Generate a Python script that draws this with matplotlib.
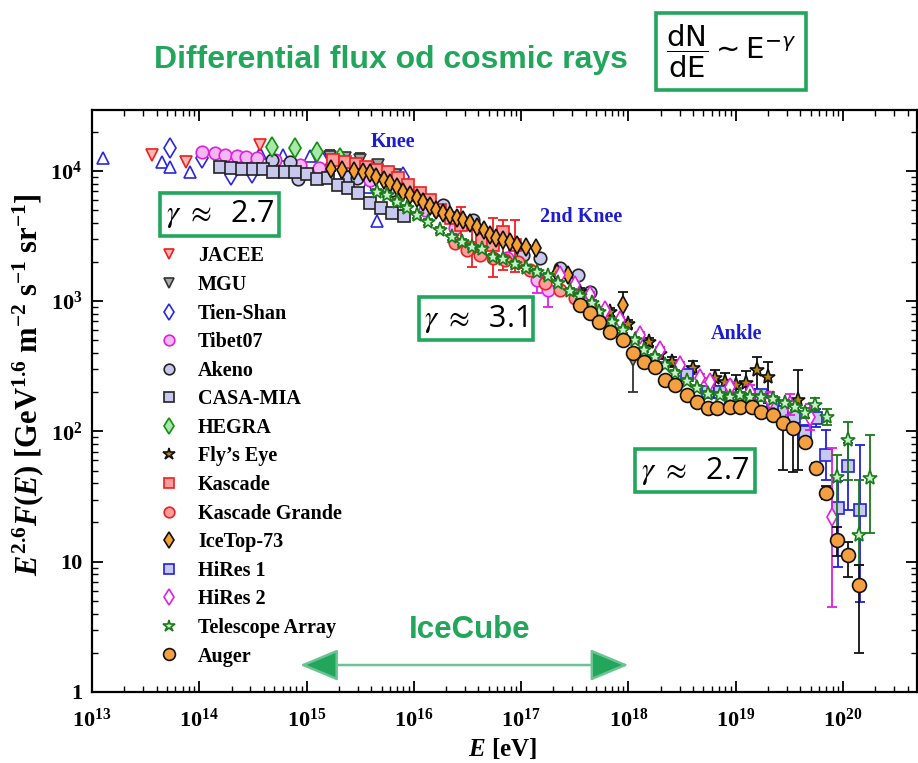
import numpy as np
import matplotlib.pyplot as plt
from matplotlib.lines import Line2D

plt.rcParams['font.family'] = 'Liberation Serif'
plt.rcParams['mathtext.fontset'] = 'custom'
plt.rcParams['mathtext.rm'] = 'Liberation Serif:bold'
plt.rcParams['mathtext.it'] = 'Liberation Serif:italic:bold'
plt.rcParams['mathtext.bf'] = 'Liberation Serif:bold'

GREEN = '#21a65b'
BLUE = '#1c1cd2'

# ---- data: log10(E/eV), log10(E^2.6 F), error bars in dex ----
grigorov_logE = [13.10, 13.65, 13.73, 13.91, 14.57, 14.78, 15.03, 15.14, 15.56, 15.66]
grigorov_logF = [4.100, 4.069, 4.031, 3.993, 4.138, 4.123, 4.115, 4.077, 3.877, 3.616]

jacee_logE = [13.56, 13.88, 14.57]
jacee_logF = [4.123, 4.069, 4.200]

mgu_logE = [15.22, 15.36, 15.50, 15.67, 15.82, 18.04]
mgu_logF = [4.108, 4.100, 4.085, 4.046, 3.969, 2.549]
mgu_lo = [0.03, 0.03, 0.03, 0.04, 0.04, 0.25]
mgu_hi = [0.05, 0.03, 0.05, 0.04, 0.04, 0.03]

tienshan_logE = [13.73, 14.03, 14.30, 14.49, 15.14, 15.90]
tienshan_logF = [4.177, 4.100, 3.969, 3.985, 4.077, 3.954]

tibet_logE = [14.03, 14.15, 14.24, 14.35, 14.44, 14.54, 14.71, 14.94, 15.12, 15.36,
              15.59, 15.82, 16.10, 16.38, 16.62, 16.87, 17.15, 17.25]
tibet_logF = [4.146, 4.138, 4.123, 4.115, 4.108, 4.100, 4.085, 4.046, 4.023, 3.993,
              3.931, 3.839, 3.701, 3.563, 3.432, 3.332, 3.163, 3.087]
tibet_lo = [0.01] * 16 + [0.10, 0.13]
tibet_hi = [0.01] * 16 + [0.03, 0.03]

akeno_logE = [14.68, 14.85, 14.92, 15.38, 15.47, 15.80, 16.03, 16.27, 16.55, 16.80,
              17.02, 17.18, 17.36, 17.53, 17.64]
akeno_logF = [4.085, 4.069, 3.939, 3.954, 3.946, 3.854, 3.808, 3.739, 3.624, 3.486,
              3.355, 3.332, 3.255, 3.202, 3.071]

casa_logE = [14.19, 14.30, 14.40, 14.50, 14.59, 14.69, 14.80, 14.89, 15.00, 15.10,
             15.20, 15.29, 15.39, 15.48, 15.59, 15.69, 15.80, 15.91]
casa_logF = [4.031, 4.023, 4.016, 4.016, 4.016, 3.993, 3.993, 3.993, 3.977, 3.939,
             3.946, 3.893, 3.870, 3.831, 3.755, 3.716, 3.678, 3.655]

hegra_logE = [14.68, 14.89, 15.10, 15.31]
hegra_logF = [4.185, 4.177, 4.146, 4.100]

flyseye_logE = [17.55, 17.83, 18.00, 18.19, 18.29, 18.41, 18.60, 18.81, 18.90, 19.00,
                19.10, 19.20, 19.30, 19.58]
flyseye_logF = [3.071, 2.918, 2.826, 2.687, 2.595, 2.534, 2.488, 2.411, 2.380, 2.357,
                2.373, 2.472, 2.419, 2.242]
flyseye_lo = [0.03, 0.03, 0.03, 0.03, 0.04, 0.04, 0.05, 0.06, 0.07, 0.08, 0.09, 0.21, 0.20, 0.54]
flyseye_hi = [0.03, 0.03, 0.03, 0.03, 0.04, 0.04, 0.05, 0.06, 0.07, 0.08, 0.09, 0.10, 0.115, 0.23]

kascade_logE = [15.25, 15.36, 15.46, 15.55, 15.66, 15.76, 15.85, 15.95, 16.06, 16.15,
                16.24, 16.35, 16.44, 16.54, 16.64, 16.74, 16.83, 16.94]
kascade_logF = [4.085, 4.069, 4.054, 4.031, 4.008, 3.993, 3.946, 3.893, 3.831, 3.778,
                3.701, 3.639, 3.586, 3.409, 3.470, 3.432, 3.532, 3.432]
kascade_lo = [0.02] * 12 + [0.115, 0.15, 0.05, 0.25, 0.29, 0.21]
kascade_hi = [0.02] * 12 + [0.14, 0.14, 0.05, 0.21, 0.09, 0.19]

kgrande_logE = [16.38, 16.50, 16.62, 16.74, 16.85, 16.97, 17.08, 17.22, 17.36, 17.50, 17.64, 17.76]
kgrande_logF = [3.447, 3.394, 3.355, 3.332, 3.317, 3.301, 3.240, 3.140, 3.087, 3.025, 2.971, 2.856]

icetop_logE = [15.23, 15.33, 15.44, 15.53, 15.59, 15.65, 15.72, 15.78, 15.84, 15.90,
               15.96, 16.03, 16.09, 16.15, 16.21, 16.27, 16.34, 16.40, 16.46, 16.52,
               16.59, 16.65, 16.71, 16.77, 16.83, 16.90, 16.96, 17.05, 17.14, 17.33,
               17.44, 17.95]
icetop_logF = [4.013, 4.008, 4.003, 3.995, 3.983, 3.956, 3.931, 3.906, 3.880, 3.841,
               3.816, 3.791, 3.765, 3.732, 3.701, 3.675, 3.662, 3.637, 3.624, 3.599,
               3.573, 3.547, 3.509, 3.484, 3.470, 3.457, 3.432, 3.419, 3.407, 3.215,
               3.202, 2.971]
icetop_lo = [0.01] * 31 + [0.115]
icetop_hi = [0.01] * 31 + [0.10]

hires1_logE = [18.55, 18.74, 18.85, 18.96, 19.06, 19.15, 19.24, 19.35, 19.45, 19.54,
               19.65, 19.75, 19.84, 19.95, 20.05, 20.16]
hires1_logF = [2.434, 2.303, 2.303, 2.242, 2.257, 2.280, 2.280, 2.204, 2.150, 2.111,
               1.996, 2.104, 1.820, 1.413, 1.735, 1.397]
hires1_lo = [0.03] * 9 + [0.05, 0.05, 0.07, 0.19, 0.45, 0.34, 0.71]
hires1_hi = [0.03] * 9 + [0.05, 0.05, 0.07, 0.19, 0.21, 0.18, 0.50]

hires2_logE = [17.36, 17.50, 17.64, 17.78, 17.92, 18.11, 18.29, 18.48, 18.67, 18.76,
               18.95, 19.13, 19.32, 19.51, 19.69, 19.90]
hires2_logF = [3.202, 3.125, 3.048, 2.933, 2.856, 2.741, 2.626, 2.511, 2.411, 2.380,
               2.342, 2.303, 2.242, 2.204, 2.111, 1.344]
hires2_lo = [0.02] * 8 + [0.03, 0.03, 0.04, 0.05, 0.06, 0.08, 0.10, 0.69]
hires2_hi = [0.02] * 8 + [0.03, 0.03, 0.04, 0.05, 0.06, 0.08, 0.10, 0.53]

ta_logE = [15.66, 15.75, 15.84, 15.94, 16.03, 16.13, 16.24, 16.36, 16.45, 16.54,
           16.64, 16.74, 16.83, 16.94, 17.05, 17.15, 17.25, 17.34, 17.46, 17.55,
           17.66, 17.73, 17.85, 17.95, 18.06, 18.15, 18.25, 18.34, 18.43, 18.55,
           18.64, 18.74, 18.85, 18.95, 19.04, 19.13, 19.24, 19.35, 19.46, 19.55,
           19.65, 19.74, 19.85, 19.94, 20.05, 20.15, 20.25]
ta_logF = [3.839, 3.816, 3.763, 3.716, 3.662, 3.608, 3.547, 3.493, 3.455, 3.417,
           3.401, 3.340, 3.325, 3.286, 3.255, 3.225, 3.194, 3.140, 3.079, 3.040,
           2.987, 2.918, 2.841, 2.779, 2.703, 2.626, 2.572, 2.511, 2.449, 2.388,
           2.334, 2.288, 2.280, 2.265, 2.280, 2.265, 2.265, 2.250, 2.219, 2.188,
           2.142, 2.204, 2.111, 1.651, 1.935, 1.205, 1.643]
ta_lo = [0.02] * 40 + [0.04, 0.05, 0.06, 0.47, 0.31, 0.23, 0.42]
ta_hi = [0.02] * 40 + [0.04, 0.05, 0.06, 0.17, 0.14, 0.42, 0.33]

auger_logE = [17.55, 17.64, 17.73, 17.83, 17.95, 18.04, 18.15, 18.25, 18.34, 18.43,
              18.55, 18.64, 18.74, 18.83, 18.95, 19.04, 19.15, 19.24, 19.35, 19.44,
              19.53, 19.65, 19.75, 19.84, 19.94, 20.05, 20.15]
auger_logF = [2.971, 2.910, 2.841, 2.764, 2.703, 2.603, 2.534, 2.495, 2.396, 2.357,
              2.280, 2.227, 2.181, 2.181, 2.188, 2.188, 2.188, 2.150, 2.127, 2.065,
              2.027, 1.920, 1.720, 1.528, 1.167, 1.052, 0.822]
auger_lo = [0.01] * 19 + [0.36, 0.34, 0.03, 0.04, 0.05, 0.12, 0.17, 0.52]
auger_hi = [0.01] * 19 + [0.02, 0.02, 0.03, 0.04, 0.05, 0.10, 0.10, 0.15]

x_ticks = [1e13, 1e14, 1e15, 1e16, 1e17, 1e18, 1e19, 1e20]
x_ticklabels = [r'$\mathdefault{10^{%d}}$' % k for k in range(13, 21)]
y_ticks = [1, 10, 100, 1000, 10000]
y_ticklabels = ['1', '10', r'$\mathdefault{10^{2}}$', r'$\mathdefault{10^{3}}$', r'$\mathdefault{10^{4}}$']

# name, logE, logF, lo, hi, marker, face, edge, size
series = [
    (None, grigorov_logE, grigorov_logF, None, None, '^', 'white', '#2828e0', 9),
    ('JACEE', jacee_logE, jacee_logF, None, None, 'v', '#ffb3b3', '#e82020', 9),
    ('MGU', mgu_logE, mgu_logF, mgu_lo, mgu_hi, 'v', '#a8a8a8', '#333333', 9),
    ('Tien-Shan', tienshan_logE, tienshan_logF, None, None, 'd', 'white', '#2828e0', 10),
    ('Tibet07', tibet_logE, tibet_logF, tibet_lo, tibet_hi, 'o', '#f5b8f5', '#e020e0', 9),
    ('Akeno', akeno_logE, akeno_logF, None, None, 'o', '#c8c8ee', '#222222', 9),
    ('CASA-MIA', casa_logE, casa_logF, None, None, 's', '#c8c8ee', '#222222', 8.5),
    ('HEGRA', hegra_logE, hegra_logF, None, None, 'd', '#a8e8a8', '#10900f', 10),
    ('Fly\u2019s Eye', flyseye_logE, flyseye_logF, flyseye_lo, flyseye_hi, '*', '#b8860b', '#111111', 11),
    ('Kascade', kascade_logE, kascade_logF, kascade_lo, kascade_hi, 's', '#ff9c9c', '#ee2020', 8.5),
    ('Kascade Grande', kgrande_logE, kgrande_logF, None, None, 'o', '#ff9c9c', '#ee2020', 9),
    ('IceTop-73', icetop_logE, icetop_logF, icetop_lo, icetop_hi, 'd', '#f5a030', '#111111', 9),
    ('HiRes 1', hires1_logE, hires1_logF, hires1_lo, hires1_hi, 's', '#c8c8ee', '#2020e0', 8.5),
    ('HiRes 2', hires2_logE, hires2_logF, hires2_lo, hires2_hi, 'd', 'white', '#e020e0', 9),
    ('Telescope Array', ta_logE, ta_logF, ta_lo, ta_hi, '*', '#c8f0c8', '#1a7a1a', 11),
    ('Auger', auger_logE, auger_logF, auger_lo, auger_hi, 'o', '#f5a040', '#111111', 10),
]

fig = plt.figure(figsize=(9.18, 7.63), dpi=100)
ax = fig.add_axes([0.1002, 0.0931, 0.8987, 0.7628])
ax.set_xscale('log')
ax.set_yscale('log')

handles, labels = [], []
for name, le, lf, lo, hi, mk, fc, ec, ms in series:
    e = 10 ** np.array(le)
    f = 10 ** np.array(lf)
    if lo is not None:
        yerr = [f - f * 10 ** -np.array(lo), f * 10 ** np.array(hi) - f]
        ax.errorbar(e, f, yerr=yerr, fmt='none', ecolor=ec, elinewidth=1.3,
                    capsize=3.5, capthick=1.3)
    ax.plot(e, f, ls='none', marker=mk, ms=ms, mfc=fc, mec=ec, mew=1.2)
    if name:
        handles.append(Line2D([], [], ls='none', marker=mk, ms=ms * 0.85,
                              mfc=fc, mec=ec, mew=1.2))
        labels.append(name)

ax.set_xlim(1e13, 10 ** 20.69)
ax.set_ylim(1, 10 ** 4.468)
ax.set_xticks(x_ticks)
ax.set_xticklabels(x_ticklabels, fontweight='bold', fontsize=16)
ax.set_yticks(y_ticks)
ax.set_yticklabels(y_ticklabels, fontweight='bold', fontsize=16)
ax.tick_params(which='both', direction='in', top=True, right=True)
ax.tick_params(which='major', length=8, width=1.3, pad=7)
ax.tick_params(axis='x', which='major', pad=12)
ax.tick_params(which='minor', length=4, width=1.0)
for s in ax.spines.values():
    s.set_linewidth(1.6)

ax.set_xlabel(r'$E$ [eV]', fontsize=18, fontweight='bold')
ax.xaxis.set_label_coords(0.498, -0.075)
ax.set_ylabel(r'$E^{2.6}F(E)$ [GeV$^{1.6}$ m$^{-2}$ s$^{-1}$ sr$^{-1}$]', fontsize=22,
              fontweight='bold')
ax.yaxis.set_label_coords(-0.056, 0.528)

ax.legend(handles, labels, loc='upper left', bbox_to_anchor=(0.0807, 0.7655),
          frameon=False, prop={'weight': 'bold', 'size': 14.5}, handlelength=1.0,
          handletextpad=0.95, labelspacing=0.426, borderpad=0, borderaxespad=0)

# region labels
for le, lf, txt in [(15.81, 4.223, 'Knee'), (17.56, 3.647, '2nd Knee'), (19.01, 2.749, 'Ankle')]:
    ax.text(10 ** le, 10 ** lf, txt, color=BLUE, fontsize=14.5, fontweight='bold',
            ha='center', va='center')

# spectral index boxes
box = dict(boxstyle='square,pad=0.18', fc='white', ec=GREEN, lw=2.6)
for xa, ya, txt in [(0.155, 0.821, '2.7'), (0.465, 0.641, '3.1'), (0.731, 0.380, '2.7')]:
    ax.text(xa, ya, r'$\gamma\ \approx\ $ ' + txt, transform=ax.transAxes, ha='center',
            va='center', fontsize=22, family='Open Sans', weight='normal',
            math_fontfamily='stix', bbox=box)

# IceCube range
ax.annotate('', xy=(10 ** 14.94, 1.61), xytext=(1e18, 1.61),
            arrowprops=dict(arrowstyle='<|-|>,head_length=2.4,head_width=1.0',
                            fc=GREEN, ec='#6cc493', lw=1.8, shrinkA=0, shrinkB=0))
ax.text(0.458, 0.1065, 'IceCube', transform=ax.transAxes, color=GREEN, fontsize=22.5,
        family='Liberation Sans', weight='bold', ha='center', va='center')

fig.text(0.426, 0.921, 'Differential flux od cosmic rays', color=GREEN, fontsize=23,
         family='Liberation Sans', weight='bold', ha='center', va='center')
fig.text(0.796, 0.933, r'$\dfrac{\mathrm{dN}}{\mathrm{dE}}\sim\mathrm{E}^{-\gamma}$',
         fontsize=21, math_fontfamily='dejavusans', ha='center', va='center',
         bbox=dict(boxstyle='square,pad=0.34', fc='white', ec=GREEN, lw=2.6))

fig.savefig('out.png', dpi=100)
